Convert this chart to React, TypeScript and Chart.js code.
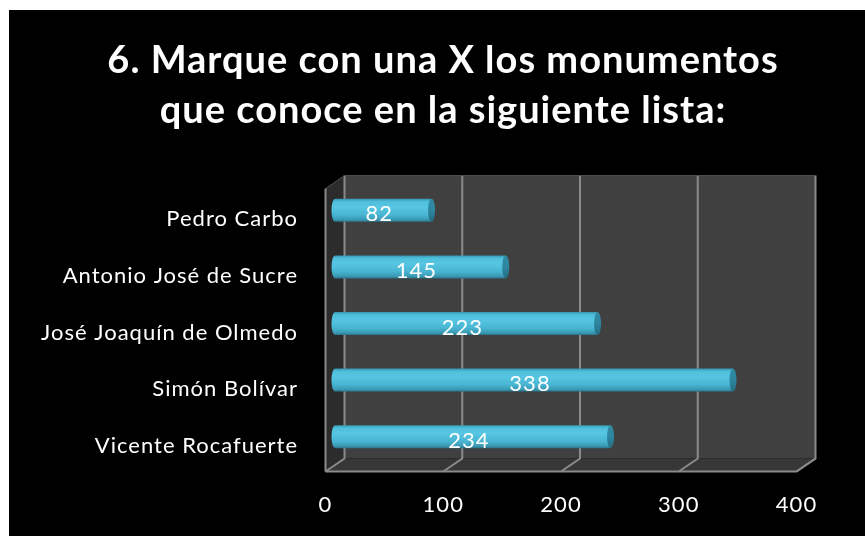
import React, { useEffect, useRef } from "react";
import { Chart, registerables } from "chart.js";

Chart.register(...registerables);

const categories = [
  "Pedro Carbo",
  "Antonio José de Sucre",
  "José Joaquín de Olmedo",
  "Simón Bolívar",
  "Vicente Rocafuerte",
];
const values = [82, 145, 223, 338, 234];
const xMin = 0;
const xMax = 400;
const xStep = 100;
const titleLines = ["6. Marque con una X los monumentos", "que conoce en la siguiente lista:"];

const DX = 19;
const DY = 13;
const FONT = "Lato, 'Open Sans', sans-serif";

const wallsPlugin = {
  id: "walls3d",
  beforeDraw(chart: any) {
    chart.ctx.letterSpacing = "1px";
  },
  beforeDatasetsDraw(chart: any) {
    const { ctx, chartArea } = chart;
    const { left: L, right: R, top: T, bottom: B } = chartArea;
    const hx = DX / 2;
    const hy = DY / 2;
    ctx.save();
    // back wall
    ctx.fillStyle = "#404040";
    ctx.fillRect(L + hx, T - hy, R - L, B - T);
    // left side wall
    ctx.fillStyle = "#2c2c2c";
    ctx.beginPath();
    ctx.moveTo(L - hx, T + hy);
    ctx.lineTo(L + hx, T - hy);
    ctx.lineTo(L + hx, B - hy);
    ctx.lineTo(L - hx, B + hy);
    ctx.closePath();
    ctx.fill();
    // floor
    ctx.fillStyle = "#373737";
    ctx.beginPath();
    ctx.moveTo(L - hx, B + hy);
    ctx.lineTo(L + hx, B - hy);
    ctx.lineTo(R + hx, B - hy);
    ctx.lineTo(R - hx, B + hy);
    ctx.closePath();
    ctx.fill();
    // grid lines
    const xs = chart.scales.x;
    ctx.strokeStyle = "#8a8a8a";
    ctx.lineWidth = 2;
    for (let v = xMin; v <= xMax; v += xStep) {
      const px = xs.getPixelForValue(v);
      ctx.beginPath();
      ctx.moveTo(px + hx, T - hy);
      ctx.lineTo(px + hx, B - hy);
      ctx.lineTo(px - hx, B + hy);
      ctx.stroke();
    }
    // floor front edge
    ctx.beginPath();
    ctx.moveTo(L - hx, B + hy);
    ctx.lineTo(R - hx, B + hy);
    ctx.lineTo(R + hx, B - hy);
    ctx.stroke();
    // left wall front edge
    ctx.beginPath();
    ctx.moveTo(L - hx, T + hy);
    ctx.lineTo(L - hx, B + hy);
    ctx.stroke();
    // back wall top edge
    ctx.strokeStyle = "#505050";
    ctx.lineWidth = 1;
    ctx.beginPath();
    ctx.moveTo(L - hx, T + hy);
    ctx.lineTo(L + hx, T - hy);
    ctx.lineTo(R + hx, T - hy);
    ctx.stroke();
    ctx.restore();
  },
  afterDatasetsDraw(chart: any) {
    const { ctx } = chart;
    const meta = chart.getDatasetMeta(0);
    ctx.save();
    meta.data.forEach((bar: any, i: number) => {
      const { x, y, base, height } = bar.getProps(["x", "y", "base", "height"], true);
      const h = height;
      const top = y - h / 2;
      const rx = 3.5;
      const g = ctx.createLinearGradient(0, top, 0, top + h);
      g.addColorStop(0, "#3796b0");
      g.addColorStop(0.12, "#4fbfdc");
      g.addColorStop(0.35, "#56c6e3");
      g.addColorStop(0.7, "#48b5d2");
      g.addColorStop(0.9, "#3a9ab4");
      g.addColorStop(1, "#2a7489");
      ctx.fillStyle = g;
      // body with rounded left end
      ctx.beginPath();
      ctx.ellipse(base, y, rx, h / 2, 0, Math.PI / 2, (Math.PI * 3) / 2, false);
      ctx.lineTo(x, top);
      ctx.lineTo(x, top + h);
      ctx.closePath();
      ctx.fill();
      // end cap
      const cg = ctx.createLinearGradient(0, top, 0, top + h);
      cg.addColorStop(0, "#2f8aa2");
      cg.addColorStop(0.5, "#2e86a0");
      cg.addColorStop(1, "#236b80");
      ctx.fillStyle = cg;
      ctx.beginPath();
      ctx.ellipse(x, y, rx, h / 2, 0, 0, Math.PI * 2);
      ctx.fill();
      // label
      ctx.fillStyle = "#ffffff";
      ctx.font = `22px ${FONT}`;
      ctx.textAlign = "center";
      ctx.textBaseline = "middle";
      ctx.fillText(String(values[i]), (base + x) / 2 - 4, y + 4);
    });
    ctx.restore();
  },
};

export default function App() {
  const ref = useRef<HTMLCanvasElement>(null);
  useEffect(() => {
    if (!ref.current) return;
    const chart = new Chart(ref.current, {
      type: "bar",
      data: {
        labels: categories,
        datasets: [
          {
            data: values,
            backgroundColor: "rgba(0,0,0,0)",
            borderWidth: 0,
            barThickness: 23,
          },
        ],
      },
      options: {
        indexAxis: "y",
        responsive: false,
        animation: false,
        devicePixelRatio: 1,
        layout: { padding: { top: 0, right: 0, left: 12, bottom: 0 } },
        plugins: {
          legend: { display: false },
          tooltip: { enabled: false },
          title: {
            display: true,
            text: titleLines,
            color: "#ffffff",
            font: { family: FONT, size: 38, weight: "bold", lineHeight: 1.33 },
            padding: { top: 25, bottom: 46 },
          },
        },
        scales: {
          x: {
            min: xMin,
            max: xMax,
            ticks: {
              stepSize: xStep,
              color: "#ffffff",
              font: { family: FONT, size: 22 },
              labelOffset: -DX / 2,
              padding: 27,
              maxRotation: 0,
            },
            grid: { display: false, drawTicks: false },
            border: { display: false },
            afterFit: (s: any) => {
              s.height = 71;
            },
          },
          y: {
            ticks: {
              color: "#ffffff",
              font: { family: FONT, size: 22 },
              padding: 37,
              labelOffset: 9,
            },
            grid: { display: false, drawTicks: false },
            border: { display: false },
            afterFit: (s: any) => {
              s.width = 314;
            },
          },
          yRight: {
            type: "linear",
            position: "right",
            display: true,
            ticks: { display: false },
            grid: { display: false, drawTicks: false },
            border: { display: false },
            afterFit: (s: any) => {
              s.width = 59;
            },
          },
        },
      },
      plugins: [wallsPlugin],
    });
    return () => chart.destroy();
  }, []);
  return (
    <div
      style={{
        position: "absolute",
        left: 9,
        top: 10,
        width: 856,
        height: 526,
        background: "#000000",
      }}
    >
      <canvas ref={ref} width={856} height={526} style={{ display: "block" }} />
    </div>
  );
}
